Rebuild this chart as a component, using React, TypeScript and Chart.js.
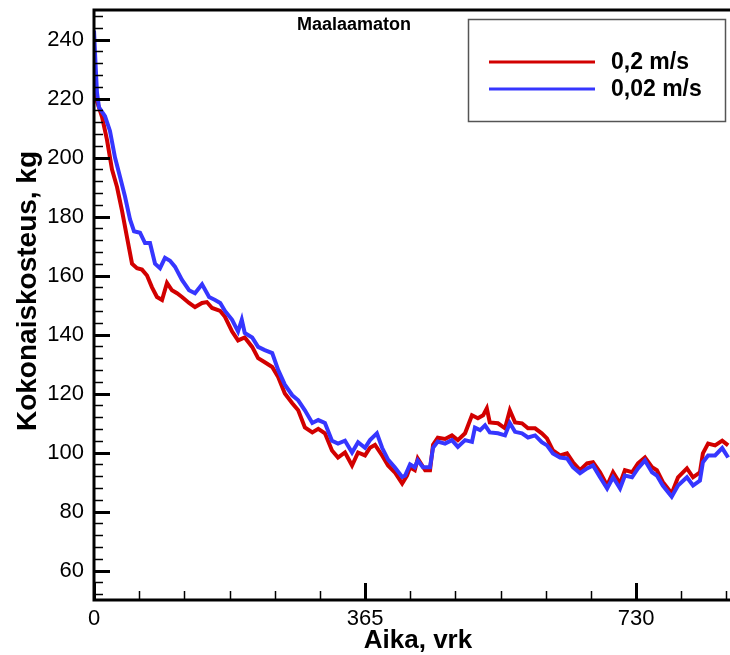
import React, { useEffect, useRef } from "react";
import { Chart, registerables } from "chart.js";

Chart.register(...registerables);

const chartTitle = "Maalaamaton";
const xAxisTitle = "Aika, vrk";
const yAxisTitle = "Kokonaiskosteus, kg";

const seriesLabels = ["0,2 m/s", "0,02 m/s"];

const xTickValues = [0, 365, 730];
const yTickValues = [60, 80, 100, 120, 140, 160, 180, 200, 220, 240];
const xMinorStep = 365 / 6;
const yMinorStep = 4;

const redDays = [
  0, 2, 4, 10.8, 17.5, 24.2, 31, 37.7, 44.4, 51.2, 57.9, 64.6, 71.4, 78.1, 84.8, 91.6, 98.3, 105, 111.8, 118.5,
  128, 136, 145.5, 152, 159, 170, 176.4, 186, 194, 203, 213, 221, 230, 240, 248, 257, 267, 275, 284, 294,
  302, 311, 320.5, 328.6, 338, 347.5, 355.6, 365, 371.7, 378.5, 388, 396, 405, 415, 421.5, 425.6, 432, 436, 446, 452.5,
  456.6, 463, 472.7, 482, 490, 499.7, 509, 517, 524, 529, 533, 544, 553.5, 560, 567, 576.4, 584.5, 594, 603, 610,
  618, 627.6, 637, 645, 654.5, 664, 672, 681.5, 691, 699, 708.4, 715, 724.6, 732.6, 742, 751.5, 758, 766, 778, 786.5,
  798.5, 806.7, 816, 820, 827, 836.4, 846, 854,
];
const redKg = [
  225, 221, 219, 213.8, 206, 196, 190, 182, 173, 164, 162.5, 162, 160, 156, 152.7, 151.7, 157.5, 155, 154, 152.7,
  150.7, 149.3, 150.7, 151, 149, 148, 146, 141, 138, 139, 135.8, 132, 130.6, 129, 125.6, 120, 116.7, 114.3, 108.5, 106.8,
  108, 106.5, 100.7, 98.3, 100, 95.6, 100, 99, 101.6, 102.6, 99, 95.6, 93.3, 89.5, 92.2, 95, 94, 98, 94, 94,
  102.6, 105, 104.6, 105.8, 104.2, 106.5, 112.6, 111.6, 112.6, 115, 110.2, 109.9, 108.2, 114.3, 110.2, 109.9, 108.2, 108.2, 106.5, 104.8,
  100.7, 99, 99.7, 96.7, 94, 96.3, 96.7, 93.3, 88.8, 93.3, 89.5, 94, 93.3, 96.3, 98.3, 95, 94, 90, 86.1, 91.6,
  94.6, 91.6, 93.3, 99.7, 103, 102.4, 104, 102.4,
];

const blueDays = [
  0, 2, 4, 6.7, 14.8, 21.5, 28.3, 35, 41.8, 48.5, 53.9, 62, 68.7, 75.4, 82.2, 88.9, 95.6, 102.4, 109, 118.5,
  128, 136, 145.5, 155, 163, 170, 176.4, 186, 194, 199, 203, 213, 221, 230, 240, 248, 257, 267, 275, 284,
  294, 302, 311, 320.5, 328.6, 338, 347.5, 355.6, 365, 371.7, 381, 388, 396, 405, 415, 419, 425.6, 432, 436, 443,
  452.5, 456.6, 463, 472.7, 482, 490, 499.7, 509, 513, 520, 526.6, 533, 544, 553.5, 560, 567, 576.4, 584.5, 594, 603,
  610, 618, 627.6, 637, 645, 654.5, 664, 672, 681.5, 691, 699, 708.4, 715, 724.6, 732.6, 742, 751.5, 758, 766, 778,
  786.5, 798.5, 806.7, 816, 820, 827, 836.4, 846, 854,
];
const blueKg = [
  243, 232, 222, 217, 214, 209, 200, 193.5, 186.7, 179, 175, 174.5, 171, 171, 164, 162.5, 166, 165, 163, 158.5,
  155, 154, 157, 152.7, 151.7, 150.7, 148, 145, 141, 145, 140.5, 139, 135.8, 134.7, 133.7, 128, 123, 119.4, 117.7, 114.3,
  110, 111, 110, 104, 103, 104, 100, 103.5, 101.6, 104.2, 106.5, 101.6, 97.6, 95, 91.7, 92.2, 96, 95, 97.3, 95,
  95, 101.6, 103.7, 103, 104.2, 101.9, 104.2, 103.6, 108.4, 107.6, 109.2, 106.8, 106.5, 105.8, 110, 107, 106.5, 105.1, 105.8, 103.5,
  102.4, 99.7, 98.3, 98, 95, 93, 94.6, 95.6, 91.6, 87.8, 91.6, 87.8, 92.2, 91.6, 94.6, 97.3, 93.3, 92.2, 88.8, 85,
  88.8, 91.6, 88.8, 90.5, 96.7, 99, 99, 101.5, 98.3,
];

const FONT = "'Liberation Sans', Arial, Helvetica, sans-serif";
const RED = "#d20000";
const BLUE = "#3636ff";

const overlayPlugin = {
  id: "overlay",
  afterDatasetsDraw(chart: any) {
    const { ctx, chartArea, scales } = chart;
    const { left, right, top, bottom } = chartArea;
    const xs = scales.x;
    const ys = scales.y;
    ctx.save();
    ctx.strokeStyle = "#000";
    ctx.fillStyle = "#000";
    ctx.lineCap = "butt";

    // y ticks (inward)
    for (let v = Math.ceil(ys.min / yMinorStep) * yMinorStep; v <= ys.max; v += yMinorStep) {
      const py = Math.round(ys.getPixelForValue(v)) + 0.5;
      const major = yTickValues.includes(v);
      ctx.lineWidth = major ? 3 : 1.5;
      ctx.beginPath();
      ctx.moveTo(left, py);
      ctx.lineTo(left + (major ? 16 : 9), py);
      ctx.stroke();
    }
    // x ticks (inward)
    for (let i = 0; i * xMinorStep <= xs.max; i++) {
      const v = i * xMinorStep;
      const px = Math.round(xs.getPixelForValue(v)) + 0.5;
      const major = xTickValues.some((t) => Math.abs(t - v) < 1e-6);
      ctx.lineWidth = major ? 3 : 1.5;
      ctx.beginPath();
      ctx.moveTo(px, bottom);
      ctx.lineTo(px, bottom - (major ? 17 : 9));
      ctx.stroke();
    }

    // axis lines
    ctx.lineWidth = 3;
    ctx.beginPath();
    ctx.moveTo(left, top);
    ctx.lineTo(right, top);
    ctx.moveTo(left, top - 1.5);
    ctx.lineTo(left, bottom + 1.5);
    ctx.moveTo(left, bottom);
    ctx.lineTo(right, bottom);
    ctx.stroke();

    // title
    ctx.font = `bold 18px ${FONT}`;
    ctx.textAlign = "center";
    ctx.textBaseline = "middle";
    ctx.fillText(chartTitle, 354, 25);

    // axis titles
    ctx.font = `bold 26px ${FONT}`;
    ctx.fillText(xAxisTitle, 418, 641);
    ctx.save();
    ctx.translate(28, 291);
    ctx.rotate(-Math.PI / 2);
    ctx.font = `bold 28px ${FONT}`;
    ctx.fillText(yAxisTitle, 0, 0);
    ctx.restore();

    // legend
    ctx.strokeStyle = "#555";
    ctx.lineWidth = 1.5;
    ctx.strokeRect(468.5, 19.5, 257, 102);
    const rows = [62, 89];
    chart.data.datasets.forEach((ds: any, i: number) => {
      ctx.strokeStyle = ds.borderColor;
      ctx.lineWidth = 3;
      ctx.beginPath();
      ctx.moveTo(489, rows[i]);
      ctx.lineTo(595, rows[i]);
      ctx.stroke();
      ctx.fillStyle = "#000";
      ctx.font = `bold 23px ${FONT}`;
      ctx.textAlign = "left";
      ctx.textBaseline = "middle";
      ctx.fillText(ds.label, 611, rows[i] + 1);
    });
    ctx.restore();
  },
};

export default function App() {
  const ref = useRef<HTMLCanvasElement | null>(null);
  useEffect(() => {
    if (!ref.current) return;
    const chart = new Chart(ref.current, {
      type: "line",
      data: {
        datasets: [
          {
            label: seriesLabels[0],
            data: redDays.map((d, i) => ({ x: d, y: redKg[i] })),
            borderColor: RED,
            backgroundColor: RED,
            borderWidth: 4,
            pointRadius: 0,
            tension: 0,
            order: 1,
          },
          {
            label: seriesLabels[1],
            data: blueDays.map((d, i) => ({ x: d, y: blueKg[i] })),
            borderColor: BLUE,
            backgroundColor: BLUE,
            borderWidth: 4,
            pointRadius: 0,
            tension: 0,
            order: 0,
          },
        ],
      },
      options: {
        responsive: false,
        animation: false,
        devicePixelRatio: 1,
        layout: { autoPadding: false, padding: { top: 10, right: 0, left: 0, bottom: 0 } },
        plugins: {
          legend: { display: false },
          title: { display: false },
          tooltip: { enabled: false },
        },
        scales: {
          x: {
            type: "linear",
            min: 0,
            max: 856.5,
            grid: { display: false, drawTicks: false },
            border: { display: false },
            afterBuildTicks: (s: any) => {
              s.ticks = xTickValues.map((v) => ({ value: v }));
            },
            afterFit: (s: any) => {
              s.height = 55;
              s.paddingLeft = 0;
              s.paddingRight = 0;
              s.paddingTop = 0;
              s.paddingBottom = 0;
            },
            ticks: {
              autoSkip: false,
              maxRotation: 0,
              padding: 6,
              color: "#000",
              font: { family: FONT, size: 22 },
              callback: (v: any) => String(v),
            },
          },
          y: {
            type: "linear",
            min: 50,
            max: 250,
            grid: { display: false, drawTicks: false },
            border: { display: false },
            afterBuildTicks: (s: any) => {
              s.ticks = yTickValues.map((v) => ({ value: v }));
            },
            afterFit: (s: any) => {
              s.width = 94;
              s.paddingLeft = 0;
              s.paddingRight = 0;
              s.paddingTop = 0;
              s.paddingBottom = 0;
            },
            ticks: {
              padding: 10,
              color: "#000",
              font: { family: FONT, size: 22 },
              callback: (v: any) => String(v),
            },
          },
        },
      },
      plugins: [overlayPlugin],
    });
    return () => chart.destroy();
  }, []);
  return (
    <div style={{ position: "fixed", left: 0, top: 0, width: 730, height: 655, background: "#fff" }}>
      <canvas ref={ref} width={730} height={655} style={{ display: "block", width: 730, height: 655 }} />
    </div>
  );
}
